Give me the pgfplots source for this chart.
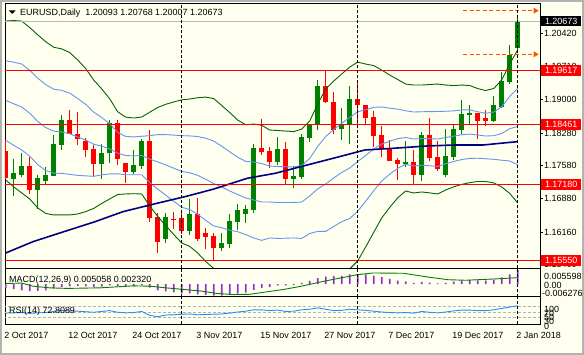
\documentclass[border=0pt]{standalone}
\usepackage{pgfplots}
\pgfplotsset{compat=1.18}
\usetikzlibrary{backgrounds}
\usepackage{fontspec}
\setmainfont{Liberation Sans}
\definecolor{bgc}{RGB}{255,255,240}
\definecolor{bullc}{RGB}{0,128,0}
\definecolor{bearc}{RGB}{255,0,0}
\definecolor{bbblue}{RGB}{100,149,237}
\definecolor{bbgreen}{RGB}{0,100,0}
\definecolor{navyc}{RGB}{0,0,128}
\definecolor{macdc}{RGB}{153,50,204}
\definecolor{rsic}{RGB}{30,144,255}
\definecolor{arrowc}{RGB}{255,80,0}
\newcommand\lbl{\fontsize{9}{10}\selectfont}
\newcommand{\bull}[5]{\addplot[bullc, line width=1bp] coordinates {(#1,#4)(#1,#3)};
  \addplot[bullc, line width=5.5bp] coordinates {(#1,#2)(#1,#5)};}
\newcommand{\bear}[5]{\addplot[bearc, line width=1bp] coordinates {(#1,#4)(#1,#3)};
  \addplot[bearc, line width=5.5bp] coordinates {(#1,#2)(#1,#5)};}
\pgfplotsset{panel/.style={scale only axis, width=535bp, xmin=-0.0875, xmax=66.79,
  axis line style={black, line width=0.8bp}, clip mode=individual,
  xtick=\empty, ytick=\empty, axis background/.style={fill=bgc}}}
\tikzset{sep/.style={black, line width=0.8bp, dash pattern=on 3bp off 2bp}}
\begin{document}
\begin{tikzpicture}
% ---------------- main price panel
\begin{axis}[panel, name=main, at={(5bp,86.5bp)}, anchor=south west, height=265bp,
  ymin=1.15377, ymax=1.21052,
  ytick={1.15460,1.16160,1.16880,1.17580,1.18280,1.19000,1.19710,1.20420},
  yticklabels={1.15460,1.16160,1.16880,1.17580,1.18280,1.19000,1.19710,1.20420},
  ytick pos=right, yticklabel pos=right, tick align=outside, major tick length=3bp,
  tick style={black, line width=0.8bp},
  yticklabel style={font=\lbl, anchor=west, inner sep=0pt, xshift=1bp}]
% candles: index, open, high, low, close
\bear{0}{1.17893}{1.18129}{1.17290}{1.17309}
\bull{1}{1.17287}{1.17722}{1.16936}{1.17429}
\bull{2}{1.17386}{1.17844}{1.17330}{1.17572}
\bear{3}{1.17572}{1.17765}{1.16966}{1.17065}
\bull{4}{1.17065}{1.17379}{1.16651}{1.17322}
\bull{5}{1.17257}{1.17551}{1.17165}{1.17379}
\bull{6}{1.17364}{1.18230}{1.17360}{1.18043}
\bull{7}{1.18028}{1.18658}{1.17921}{1.18557}
\bear{8}{1.18557}{1.18771}{1.18257}{1.18264}
\bear{9}{1.18251}{1.18735}{1.18028}{1.18157}
\bear{10}{1.18107}{1.18172}{1.17771}{1.17921}
\bear{11}{1.17936}{1.18022}{1.17343}{1.17621}
\bull{12}{1.17621}{1.18037}{1.17287}{1.17844}
\bull{13}{1.17844}{1.18557}{1.17643}{1.18486}
\bear{14}{1.18486}{1.18557}{1.17594}{1.17715}
\bear{15}{1.17630}{1.17635}{1.17215}{1.17450}
\bull{16}{1.17450}{1.17915}{1.17401}{1.17594}
\bull{17}{1.17572}{1.18157}{1.17514}{1.18114}
\bear{18}{1.18114}{1.18343}{1.16379}{1.16465}
\bear{19}{1.16480}{1.16559}{1.15716}{1.15951}
\bull{20}{1.16009}{1.16559}{1.15917}{1.16480}
\bear{21}{1.16444}{1.16587}{1.16229}{1.16416}
\bear{22}{1.16459}{1.16559}{1.16116}{1.16187}
\bull{23}{1.16187}{1.16859}{1.16095}{1.16544}
\bear{24}{1.16544}{1.16887}{1.15966}{1.16009}
\bear{25}{1.16144}{1.16251}{1.15788}{1.16058}
\bear{26}{1.16073}{1.16144}{1.15550}{1.15823}
\bull{27}{1.15823}{1.16144}{1.15758}{1.15923}
\bull{28}{1.15908}{1.16551}{1.15823}{1.16394}
\bull{29}{1.16379}{1.16758}{1.16202}{1.16630}
\bull{30}{1.16551}{1.16743}{1.16358}{1.16651}
\bull{31}{1.16630}{1.18043}{1.16572}{1.17957}
\bear{32}{1.17957}{1.18578}{1.17808}{1.17878}
\bear{33}{1.17893}{1.17985}{1.17536}{1.17658}
\bull{34}{1.17658}{1.18193}{1.17587}{1.17942}
\bear{35}{1.17942}{1.18080}{1.17180}{1.17300}
\bull{36}{1.17300}{1.17572}{1.17108}{1.17358}
\bull{37}{1.17337}{1.18257}{1.17300}{1.18193}
\bull{38}{1.18178}{1.18471}{1.18092}{1.18471}
\bull{39}{1.18450}{1.19414}{1.18336}{1.19292}
\bear{40}{1.19292}{1.19617}{1.18930}{1.18936}
\bear{41}{1.18949}{1.19163}{1.18251}{1.18343}
\bull{42}{1.18358}{1.18807}{1.18129}{1.18444}
\bull{43}{1.18444}{1.19292}{1.18043}{1.19007}
\bear{44}{1.19007}{1.19392}{1.18444}{1.18872}
\bear{45}{1.18879}{1.18885}{1.18465}{1.18606}
\bear{46}{1.18615}{1.18750}{1.17985}{1.18221}
\bear{47}{1.18230}{1.18429}{1.17771}{1.17929}
\bear{48}{1.17942}{1.18129}{1.17680}{1.17686}
\bear{49}{1.17701}{1.17750}{1.17272}{1.17621}
\bull{50}{1.17615}{1.18107}{1.17544}{1.17658}
\bear{51}{1.17658}{1.17915}{1.17165}{1.17379}
\bull{52}{1.17386}{1.18300}{1.17257}{1.18236}
\bear{53}{1.18236}{1.18600}{1.17679}{1.17750}
\bear{54}{1.17771}{1.18107}{1.17465}{1.17514}
\bull{55}{1.17386}{1.18357}{1.17330}{1.17786}
\bull{56}{1.17765}{1.18471}{1.17701}{1.18365}
\bull{57}{1.18343}{1.18985}{1.18257}{1.18685}
\bull{58}{1.18664}{1.18878}{1.18450}{1.18707}
\bear{59}{1.18707}{1.18712}{1.18144}{1.18542}
\bear{60}{1.18606}{1.18771}{1.18428}{1.18542}
\bull{61}{1.18542}{1.19071}{1.18521}{1.18870}
\bull{62}{1.18828}{1.19585}{1.18820}{1.19392}
\bull{63}{1.19377}{1.20162}{1.19334}{1.19949}
\bull{64}{1.20093}{1.20768}{1.20007}{1.20673}
% Bollinger bands
\addplot[bbgreen, line width=0.9bp] coordinates {(0,1.20676)(1,1.20687)(2,1.20676)(3,1.20537)(4,1.20382)(5,1.20234)(6,1.20115)(7,1.20080)(8,1.20002)(9,1.19843)(10,1.19659)(11,1.19413)(12,1.19224)(13,1.19012)(14,1.18732)(15,1.18619)(16,1.18599)(17,1.18621)(18,1.18724)(19,1.18826)(20,1.18893)(21,1.18944)(22,1.18988)(23,1.19006)(24,1.19034)(25,1.19048)(26,1.19016)(27,1.18869)(28,1.18717)(29,1.18556)(30,1.18456)(31,1.18470)(32,1.18445)(33,1.18342)(34,1.18332)(35,1.18321)(36,1.18308)(37,1.18363)(38,1.18535)(39,1.18899)(40,1.19220)(41,1.19391)(42,1.19541)(43,1.19690)(44,1.19797)(45,1.19755)(46,1.19723)(47,1.19627)(48,1.19520)(49,1.19424)(50,1.19327)(51,1.19306)(52,1.19306)(53,1.19317)(54,1.19327)(55,1.19306)(56,1.19295)(57,1.19306)(58,1.19295)(59,1.19231)(60,1.19188)(61,1.19231)(62,1.19413)(63,1.19756)(64,1.20055)};
\addplot[bbblue, line width=0.9bp] coordinates {(0,1.19826)(1,1.19796)(2,1.19756)(3,1.19620)(4,1.19455)(5,1.19315)(6,1.19217)(7,1.19191)(8,1.19132)(9,1.19018)(10,1.18893)(11,1.18726)(12,1.18611)(13,1.18476)(14,1.18289)(15,1.18207)(16,1.18194)(17,1.18209)(18,1.18222)(19,1.18243)(20,1.18244)(21,1.18234)(22,1.18222)(23,1.18217)(24,1.18203)(25,1.18168)(26,1.18107)(27,1.17996)(28,1.17877)(29,1.17759)(30,1.17671)(31,1.17657)(32,1.17623)(33,1.17571)(34,1.17561)(35,1.17556)(36,1.17550)(37,1.17582)(38,1.17733)(39,1.17990)(40,1.18204)(41,1.18353)(42,1.18487)(43,1.18610)(44,1.18733)(45,1.18776)(46,1.18830)(47,1.18835)(48,1.18811)(49,1.18790)(50,1.18755)(51,1.18728)(52,1.18734)(53,1.18737)(54,1.18739)(55,1.18744)(56,1.18753)(57,1.18774)(58,1.18775)(59,1.18734)(60,1.18701)(61,1.18726)(62,1.18841)(63,1.19063)(64,1.19237)};
\addplot[bbblue, line width=0.9bp] coordinates {(0,1.18975)(1,1.18905)(2,1.18836)(3,1.18702)(4,1.18528)(5,1.18395)(6,1.18319)(7,1.18302)(8,1.18263)(9,1.18194)(10,1.18127)(11,1.18038)(12,1.17997)(13,1.17939)(14,1.17847)(15,1.17796)(16,1.17789)(17,1.17797)(18,1.17720)(19,1.17659)(20,1.17596)(21,1.17525)(22,1.17456)(23,1.17428)(24,1.17372)(25,1.17288)(26,1.17197)(27,1.17123)(28,1.17037)(29,1.16962)(30,1.16887)(31,1.16844)(32,1.16801)(33,1.16801)(34,1.16791)(35,1.16791)(36,1.16791)(37,1.16801)(38,1.16930)(39,1.17080)(40,1.17187)(41,1.17315)(42,1.17433)(43,1.17529)(44,1.17668)(45,1.17797)(46,1.17936)(47,1.18043)(48,1.18103)(49,1.18157)(50,1.18182)(51,1.18150)(52,1.18161)(53,1.18157)(54,1.18150)(55,1.18182)(56,1.18210)(57,1.18242)(58,1.18255)(59,1.18236)(60,1.18214)(61,1.18221)(62,1.18268)(63,1.18371)(64,1.18418)};
\addplot[bbblue, line width=0.9bp] coordinates {(0,1.18124)(1,1.18014)(2,1.17916)(3,1.17784)(4,1.17601)(5,1.17475)(6,1.17421)(7,1.17413)(8,1.17394)(9,1.17370)(10,1.17361)(11,1.17351)(12,1.17383)(13,1.17402)(14,1.17405)(15,1.17385)(16,1.17384)(17,1.17385)(18,1.17218)(19,1.17075)(20,1.16948)(21,1.16816)(22,1.16690)(23,1.16639)(24,1.16541)(25,1.16408)(26,1.16288)(27,1.16250)(28,1.16197)(29,1.16165)(30,1.16103)(31,1.16031)(32,1.15979)(33,1.16031)(34,1.16021)(35,1.16026)(36,1.16032)(37,1.16020)(38,1.16128)(39,1.16171)(40,1.16171)(41,1.16277)(42,1.16379)(43,1.16448)(44,1.16603)(45,1.16818)(46,1.17043)(47,1.17251)(48,1.17395)(49,1.17524)(50,1.17610)(51,1.17572)(52,1.17589)(53,1.17577)(54,1.17562)(55,1.17620)(56,1.17668)(57,1.17710)(58,1.17735)(59,1.17738)(60,1.17727)(61,1.17716)(62,1.17696)(63,1.17679)(64,1.17599)};
\addplot[bbgreen, line width=0.9bp] coordinates {(0,1.17274)(1,1.17123)(2,1.16996)(3,1.16867)(4,1.16674)(5,1.16556)(6,1.16524)(7,1.16524)(8,1.16524)(9,1.16545)(10,1.16595)(11,1.16663)(12,1.16770)(13,1.16866)(14,1.16962)(15,1.16973)(16,1.16979)(17,1.16973)(18,1.16716)(19,1.16492)(20,1.16299)(21,1.16106)(22,1.15924)(23,1.15850)(24,1.15710)(25,1.15528)(26,1.15378)(27,1.15377)(28,1.15357)(29,1.15368)(30,1.15318)(31,1.15218)(32,1.15158)(33,1.15260)(34,1.15250)(35,1.15261)(36,1.15274)(37,1.15239)(38,1.15325)(39,1.15261)(40,1.15154)(41,1.15239)(42,1.15325)(43,1.15368)(44,1.15539)(45,1.15839)(46,1.16149)(47,1.16459)(48,1.16686)(49,1.16890)(50,1.17037)(51,1.16994)(52,1.17016)(53,1.16997)(54,1.16973)(55,1.17059)(56,1.17125)(57,1.17178)(58,1.17215)(59,1.17241)(60,1.17240)(61,1.17211)(62,1.17123)(63,1.16986)(64,1.16781)};
% long moving average
\addplot[navyc, line width=1.6bp] coordinates {(0,1.15709)(3.4,1.15951)(7.66,1.16187)(11.16,1.16379)(14.66,1.16594)(18.9,1.16773)(22.4,1.16915)(25.9,1.17073)(30.2,1.17309)(33.7,1.17416)(37.2,1.17572)(41.4,1.17758)(44.9,1.17915)(48.4,1.17951)(52.7,1.18001)(56.2,1.18022)(59.7,1.18022)(61.8,1.18058)(64,1.18093)};
% horizontal levels
\addplot[gray!55, line width=0.9bp] coordinates {(-1,1.20673)(70,1.20673)};
\addplot[red, line width=0.9bp] coordinates {(-1,1.19617)(70,1.19617)};
\addplot[red, line width=0.9bp] coordinates {(-1,1.18461)(70,1.18461)};
\addplot[red, line width=0.9bp] coordinates {(-1,1.17180)(70,1.17180)};
\addplot[red, line width=0.9bp] coordinates {(-1,1.15550)(70,1.15550)};
% pending levels
\addplot[arrowc, line width=1bp, dash pattern=on 4bp off 2.5bp] coordinates {(57.2,1.20898)(66.0,1.20898)};
\addplot[arrowc, line width=1bp, dash pattern=on 4bp off 2.5bp] coordinates {(57.2,1.19964)(66.0,1.19964)};
\coordinate (ar1) at (axis cs:66.0,1.20898);
\coordinate (ar2) at (axis cs:66.0,1.19964);
\coordinate (s1a) at (axis cs:22,1.15377); \coordinate (s1b) at (axis cs:22,1.21052);
\coordinate (s2a) at (axis cs:44,1.15377); \coordinate (s2b) at (axis cs:44,1.21052);
\coordinate (s3a) at (axis cs:64,1.15377); \coordinate (s3b) at (axis cs:64,1.21052);
\coordinate (q0) at (axis cs:66.79,1.20673);
\coordinate (q1) at (axis cs:66.79,1.19617);
\coordinate (q2) at (axis cs:66.79,1.18461);
\coordinate (q3) at (axis cs:66.79,1.17180);
\coordinate (q4) at (axis cs:66.79,1.15550);
\end{axis}
% ---------------- MACD panel
\begin{axis}[panel, name=macd, at={([yshift=-2.5bp]main.south west)}, anchor=north west, height=28.3bp,
  ymin=-0.004493, ymax=0.005598]
\addplot[ybar, bar width=1.8bp, fill=macdc, draw=none] coordinates {(0,-0.0015)(1,-0.0018)(2,-0.0022)(3,-0.0025)(4,-0.0024)(5,-0.0022)(6,-0.0016)(7,-0.0010)(8,-0.0008)(9,-0.0007)(10,-0.0008)(11,-0.0010)(12,-0.0009)(13,-0.0004)(14,-0.0006)(15,-0.0008)(16,-0.0008)(17,-0.0004)(18,-0.0012)(19,-0.0022)(20,-0.0026)(21,-0.0029)(22,-0.0033)(23,-0.0033)(24,-0.0036)(25,-0.0038)(26,-0.0041)(27,-0.0041)(28,-0.0038)(29,-0.0034)(30,-0.0030)(31,-0.0020)(32,-0.0013)(33,-0.0010)(34,-0.0004)(35,-0.0004)(36,-0.0002)(37,0.0005)(38,0.0012)(39,0.0022)(40,0.0027)(41,0.0029)(42,0.0030)(43,0.0035)(44,0.0036)(45,0.0035)(46,0.0031)(47,0.0025)(48,0.0019)(49,0.0013)(50,0.0010)(51,0.0005)(52,0.0008)(53,0.0006)(54,0.0003)(55,0.0005)(56,0.0009)(57,0.0013)(58,0.0015)(59,0.0014)(60,0.0013)(61,0.0016)(62,0.0024)(63,0.0035)(64,0.005058)};
\addplot[bullc, line width=0.9bp] coordinates {(0,0.00025)(2,0.0004)(3.4,-0.0007)(5.5,-0.0013)(7.7,-0.0015)(11.8,-0.0013)(15.9,-0.0006)(18,-0.0007)(20,-0.0013)(22,-0.0018)(24.3,-0.0024)(26.4,-0.0033)(28.4,-0.0037)(30.5,-0.0036)(32.7,-0.0027)(34.7,-0.0019)(36.8,-0.0008)(40.3,0.00135)(44,0.0034)(45.9,0.0040)(49.7,0.0039)(52.9,0.0025)(55.3,0.0016)(57.5,0.0014)(61.3,0.0019)(64,0.00232)};
\coordinate (m1a) at (axis cs:22,-0.004493); \coordinate (m1b) at (axis cs:22,0.005598);
\coordinate (m2a) at (axis cs:44,-0.004493); \coordinate (m2b) at (axis cs:44,0.005598);
\coordinate (m3a) at (axis cs:64,-0.004493); \coordinate (m3b) at (axis cs:64,0.005598);
\end{axis}
% ---------------- RSI panel
\begin{axis}[panel, name=rsi, at={([yshift=-2.7bp]macd.south west)}, anchor=north west, height=27.3bp, ymin=6.2, ymax=105.1,
  xtick={0,8,16,24,32,40,48,56,64}, xtick pos=bottom, major tick length=0pt,
  xticklabels={2 Oct 2017,12 Oct 2017,24 Oct 2017,3 Nov 2017,15 Nov 2017,27 Nov 2017,7 Dec 2017,19 Dec 2017,2 Jan 2018},
  xticklabel style={font=\lbl, anchor=north west, inner sep=0pt, xshift=-1.4bp, yshift=-7.7bp}]
\addplot[gray!60, line width=0.8bp, dash pattern=on 3bp off 2bp] coordinates {(-1,70)(70,70)};
\addplot[gray!60, line width=0.8bp, dash pattern=on 3bp off 2bp] coordinates {(-1,50)(70,50)};
\addplot[gray!60, line width=0.8bp, dash pattern=on 3bp off 2bp] coordinates {(-1,30)(70,30)};
\addplot[rsic, line width=0.9bp] coordinates {(0,46)(1,47)(2,48)(3,45)(4,47)(5,48)(6,52)(7,56)(8,54)(9,53)(10,51)(11,49)(12,52)(13,55)(14,49)(15,47)(16,48)(17,52)(18,38)(19,33)(20,39)(21,40)(22,42)(23,43)(24,40)(25,41)(26,42)(27,43)(28,46)(29,50)(30,53)(31,58)(32,58)(33,55)(34,57)(35,52)(36,53)(37,58)(38,60)(39,65)(40,60)(41,55)(42,56)(43,60)(44,58)(45,56)(46,53)(47,50)(48,48)(49,47)(50,48)(51,46)(52,52)(53,49)(54,47)(55,50)(56,54)(57,57)(58,57)(59,55)(60,55)(61,58)(62,63)(63,68)(64,72.81)};
\coordinate (r1a) at (axis cs:22,6.2); \coordinate (r1b) at (axis cs:22,105.1);
\coordinate (r2a) at (axis cs:44,6.2); \coordinate (r2b) at (axis cs:44,105.1);
\coordinate (r3a) at (axis cs:64,6.2); \coordinate (r3b) at (axis cs:64,105.1);
\end{axis}
\draw[sep] (s1a) -- (s1b); \draw[sep] (s2a) -- (s2b); \draw[sep] (s3a) -- (s3b);
\draw[sep] (m1a) -- (m1b); \draw[sep] (m2a) -- (m2b); \draw[sep] (m3a) -- (m3b);
\draw[sep] (r1a) -- (r1b); \draw[sep] (r2a) -- (r2b); \draw[sep] (r3a) -- (r3b);
\fill[arrowc] ([yshift=3bp]ar1) -- ([xshift=5bp]ar1) -- ([yshift=-3bp]ar1) -- cycle;
\fill[arrowc] ([yshift=3bp]ar2) -- ([xshift=5bp]ar2) -- ([yshift=-3bp]ar2) -- cycle;
\node[anchor=west, fill=red, text=white, font=\lbl, inner sep=0pt, minimum width=40bp, minimum height=10.5bp] at ([xshift=1bp]q1) {1.19617};
\node[anchor=west, fill=red, text=white, font=\lbl, inner sep=0pt, minimum width=40bp, minimum height=10.5bp] at ([xshift=1bp]q2) {1.18461};
\node[anchor=west, fill=red, text=white, font=\lbl, inner sep=0pt, minimum width=40bp, minimum height=10.5bp] at ([xshift=1bp]q3) {1.17180};
\node[anchor=west, fill=red, text=white, font=\lbl, inner sep=0pt, minimum width=40bp, minimum height=10.5bp] at ([xshift=1bp]q4) {1.15550};
\node[anchor=west, fill=black, text=white, font=\lbl, inner sep=0pt, minimum width=40bp, minimum height=10.5bp] at ([xshift=1bp]q0) {1.20673};
% texts, in a frame whose origin is the lower left corner of the price panel
\begin{scope}[shift={(main.south west)}, x=1bp, y=1bp]
\fill[black] (4,258) -- (10.5,258) -- (7.25,254.5) -- cycle;
\node[anchor=west, font=\lbl, inner sep=0pt] at (15,255.5) {EURUSD,Daily\ \ 1.20093 1.20768 1.20007 1.20673};
\node[anchor=west, font=\lbl, inner sep=0pt] at (4,-11.5) {MACD(12,26,9) 0.005058 0.002320};
\node[anchor=west, font=\lbl, inner sep=0pt] at (539,-8.2) {0.005598};
\node[anchor=west, font=\lbl, inner sep=0pt] at (539,-16.5) {0.00};
\node[anchor=west, font=\lbl, inner sep=0pt] at (537,-24.8) {-0.006276};
\node[anchor=west, font=\lbl, inner sep=0pt] at (4,-42.5) {RSI(14) 72.8089};
\node[anchor=west, font=\lbl, inner sep=0pt] at (539,-40.5) {100};
\node[anchor=west, font=\lbl, inner sep=0pt] at (539,-44.5) {70};
\node[anchor=west, font=\lbl, inner sep=0pt] at (539,-48.5) {50};
\node[anchor=west, font=\lbl, inner sep=0pt] at (539,-52.5) {30};
\node[anchor=west, font=\lbl, inner sep=0pt] at (539,-57.5) {0};
\draw[gray!60, line width=2bp] (-4,267.5) rectangle (578,-85.5);
\begin{scope}[on background layer]
\fill[bgc] (-5,268.5) rectangle (579,-86.5);
\end{scope}
\end{scope}
\pgfresetboundingbox
\path[use as bounding box] ([shift={(-5bp,-86.5bp)}]main.south west) rectangle ++(584bp,355bp);
\end{tikzpicture}
\end{document}
